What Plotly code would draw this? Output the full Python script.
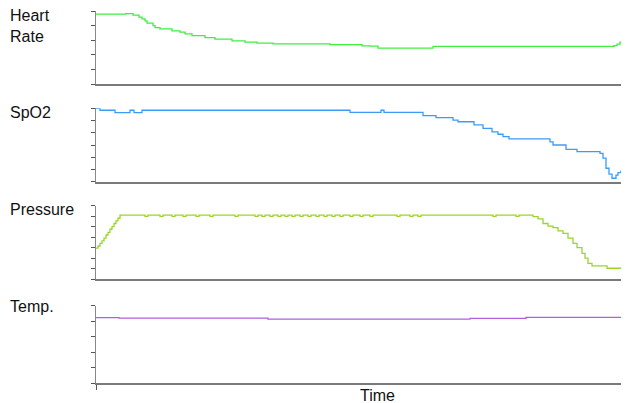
import plotly.graph_objects as go

# ---- data (time in minutes from start) ----
hr_t = [0, 30, 37, 43, 46, 49, 51, 57, 59, 64, 76, 84, 89, 96, 109, 119, 136, 149, 161, 177,
        234, 266, 274, 282, 337, 518, 521, 524, 529, 533]
hr_v = [144, 145, 142, 138, 134.5, 130.3, 125.6, 120.6, 116.5, 113.8, 109.7, 107, 103.4, 99.9,
        95.8, 92.5, 89, 86.3, 84.2, 82.8, 81.3, 78.6, 78, 73.9, 77.6, 79.2, 82.1, 86.3, 91, 91]

sp_t = [0, 4, 19, 34, 38, 46, 254, 285, 288, 327, 340, 357, 362, 378, 387, 396, 402, 407, 413,
        454, 457, 470, 481, 504, 507, 510, 513, 516, 520, 522, 525, 531, 533]
sp_v = [100, 99.2, 98.2, 99.2, 98.2, 99.2, 98.3, 99.2, 98.3, 97.0, 96.2, 95.2, 94.5, 93.2, 91.8,
        90.4, 89.4, 88.4, 87.5, 86.3, 85.0, 83.2, 82.3, 81.6, 79.6, 75.5, 73.1, 71.4, 72.7, 73.7,
        74.4, 76.1, 76.1]

pr_t = [0, 2, 4, 6, 8, 10, 12, 14, 16, 18, 20, 22, 24,
        49, 52, 64, 67, 76, 79, 87, 90, 100, 103, 114, 117, 139, 142, 159, 162, 166, 169,
        174, 177, 182, 185, 189, 192, 196, 199, 204, 207, 212, 215, 220, 223, 228, 231,
        236, 239, 244, 247, 254, 257, 264, 267, 274, 277, 301, 304, 314, 317, 322, 325,
        397, 400, 420, 423,
        432, 437, 442, 447, 452, 457, 462, 467, 472, 477, 481, 486, 489, 492, 496, 511, 529, 533]
pr_v = [59, 63, 68, 73, 78, 84, 89, 95, 100, 106, 111, 116, 122,
        119.5, 122, 119.5, 122, 119.5, 122, 119.5, 122, 119.5, 122, 119.5, 122, 119.5, 122,
        119.5, 122, 119.5, 122, 119.5, 122, 119.5, 122, 119.5, 122, 119.5, 122, 119.5, 122,
        119.5, 122, 119.5, 122, 119.5, 122, 119.5, 122, 119.5, 122, 119.5, 122, 119.5, 122,
        119.5, 122, 119.5, 122, 119.5, 122, 119.5, 122, 119.5, 122, 119.5, 122,
        122, 119, 115, 106, 101, 98, 92, 87, 78, 68, 60, 49, 40, 30, 25, 20.5, 23.5, 23.5]

tp_t = [0, 23, 172, 374, 430, 533]
tp_v = [38.45, 38.40, 38.26, 38.36, 38.48, 38.48]

labels = ["Heart<br>Rate", "SpO2", "Pressure", "Temp."]
colors = ["#40ee40", "#3c9cf5", "#9ad62a", "#b45fe0"]
y_ranges = [[0, 150], [70, 100], [0, 140], [30, 40]]
y_dtick = [30, 5, 20, 2]

# The page body has an 8px margin, so the figure is laid out in page pixels minus 8.
OFF = 8
W, H = 629 - OFF, 403 - OFF
L = 96 - OFF
PW = W - L
# panel pixel extents in page coordinates (top, bottom)
panels_px = [(11.3, 84), (108.3, 181.7), (205.7, 279), (305.7, 383)]
label_y_px = [26, 113, 210, 306]

fig = go.Figure()
series = [(hr_t, hr_v), (sp_t, sp_v), (pr_t, pr_v), (tp_t, tp_v)]
for i, (t, v) in enumerate(series):
    fig.add_trace(go.Scatter(
        x=t, y=v, mode="lines", line=dict(color=colors[i], width=1.3, shape="hv"),
        xaxis="x" if i == 0 else f"x{i+1}", yaxis="y" if i == 0 else f"y{i+1}",
        showlegend=False, hoverinfo="skip"))

layout = dict(width=W, height=H, margin=dict(l=L, r=0, t=0, b=0, pad=0),
              plot_bgcolor="white", paper_bgcolor="white",
              font=dict(family="Liberation Sans, Arial", size=16, color="#111"))
annotations = []
for i in range(4):
    top, bot = panels_px[i]
    dom = [1 - (bot - OFF) / H, 1 - (top - OFF) / H]
    xa = "xaxis" if i == 0 else f"xaxis{i+1}"
    ya = "yaxis" if i == 0 else f"yaxis{i+1}"
    yref = "y" if i == 0 else f"y{i+1}"
    xref = "x" if i == 0 else f"x{i+1}"
    last = (i == 3)
    layout[xa] = dict(range=[0, 533], domain=[0, 1], anchor=yref, showgrid=False,
                      zeroline=False, showline=True, linecolor="#7a7a7a", linewidth=2,
                      showticklabels=False,
                      ticks="outside" if last else "", tickvals=[0] if last else [],
                      ticklen=5, tickcolor="#555")
    layout[ya] = dict(range=y_ranges[i], domain=dom, anchor=xref, showgrid=False,
                      zeroline=False, showline=True, linecolor="#888", linewidth=1.3,
                      showticklabels=False, ticks="outside", ticklen=4, tickcolor="#555",
                      tickwidth=1, dtick=y_dtick[i], tick0=y_ranges[i][0])
    annotations.append(dict(text=labels[i], xref="paper", yref="paper",
                            x=(8 - 96) / PW, y=1 - (label_y_px[i] - OFF) / H,
                            xanchor="left", yanchor="middle", showarrow=False,
                            align="left", font=dict(size=16)))

annotations.append(dict(text="Time", xref="paper", yref="paper",
                        x=(377.5 - 96) / PW, y=1 - (395 - OFF) / H, xanchor="center",
                        yanchor="middle", showarrow=False, font=dict(size=16)))
layout["annotations"] = annotations
fig.update_layout(**layout)
fig.write_html("out.html")
